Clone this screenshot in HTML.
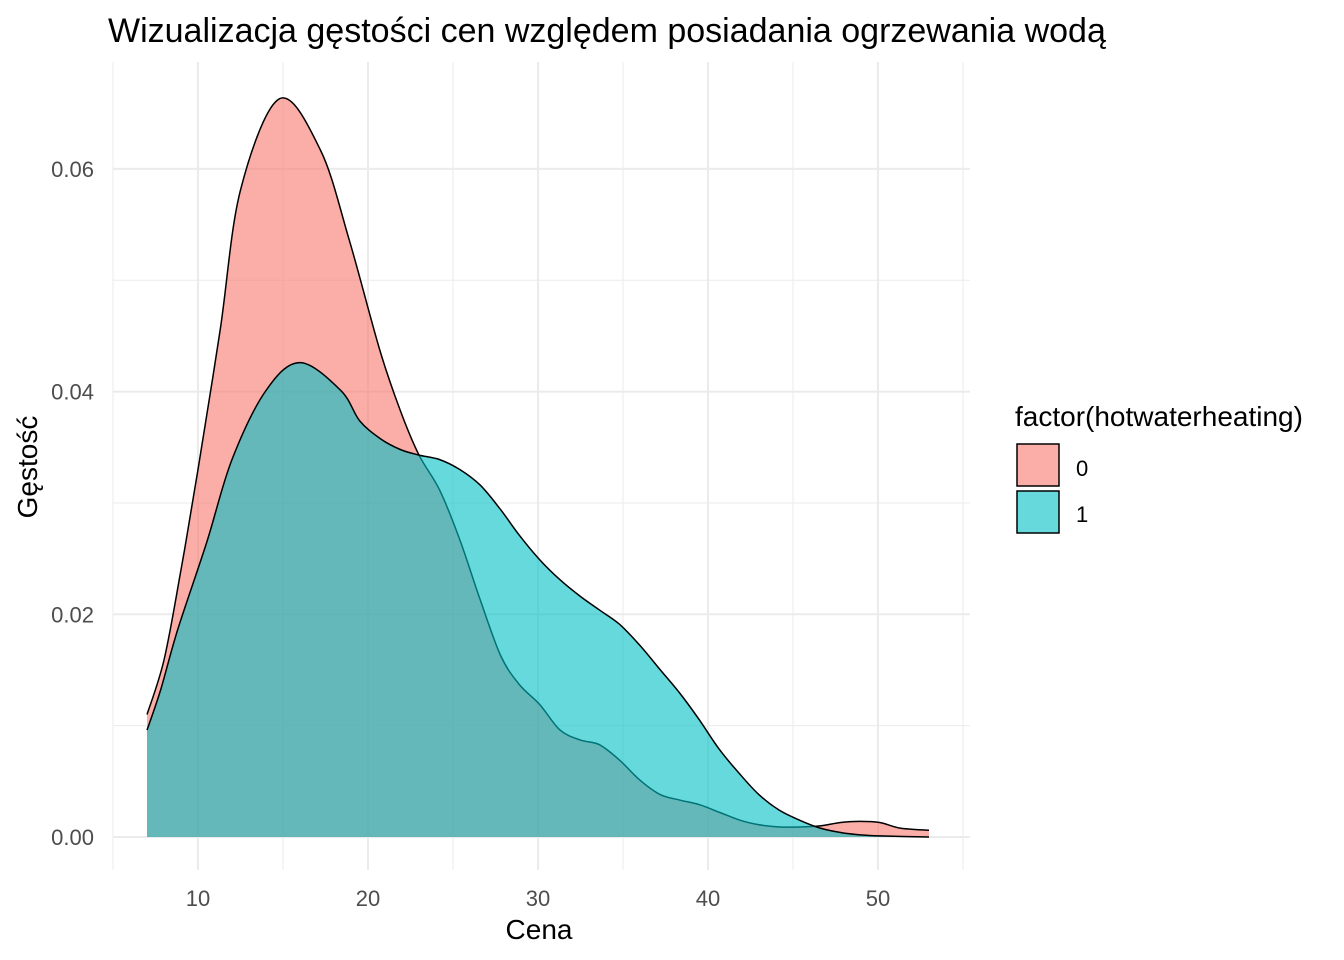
<!DOCTYPE html>
<html><head><meta charset="utf-8"><style>
body{margin:0;background:#fff;}
svg{display:block;font-family:"Liberation Sans",Arial,sans-serif;}
</style></head><body>
<svg id="chart" width="1344" height="960">
<text x="108" y="42" font-size="34" fill="#000">Wizualizacja gęstości cen względem posiadania ogrzewania wodą</text>
<g id="grid"></g>
<g id="areas"></g>
<g id="ticks"></g>
<text x="539" y="939" font-size="28" text-anchor="middle" fill="#000">Cena</text>
<text transform="translate(37,467) rotate(-90)" font-size="28" text-anchor="middle" fill="#000">Gęstość</text>
<g>
<text x="1015" y="426" font-size="28" fill="#000">factor(hotwaterheating)</text>
<rect x="1017" y="444" width="42" height="42" fill="#F8766D" fill-opacity="0.6" stroke="#000" stroke-width="1.5"/>
<text x="1076" y="476" font-size="22" fill="#000">0</text>
<rect x="1017" y="491" width="42" height="42" fill="#00BFC4" fill-opacity="0.6" stroke="#000" stroke-width="1.5"/>
<text x="1076" y="522" font-size="22" fill="#000">1</text>
</g>
</svg>
<script>
const xTicks=[10,20,30,40,50];
const xMinor=[5,15,25,35,45,55];
const yTicks=[0,0.02,0.04,0.06];
const yTickLabels=["0.00","0.02","0.04","0.06"];
const yMinor=[0.01,0.03,0.05];
const x0=[7,8,9,10,11.3,12.5,14.8,17.2,18.9,20.7,21.9,23,24.2,25.4,26.6,27.8,28.9,30.1,31.3,32.5,33.6,34.8,36,37.2,38.4,39.5,40.7,41.9,43,44.2,45.4,46.6,47.8,48.9,50.1,51.3,53];
const y0=[0.0110,0.0159,0.0240,0.0330,0.0455,0.0581,0.0663,0.0617,0.0536,0.0437,0.0383,0.0343,0.0312,0.0267,0.0213,0.0163,0.0137,0.0119,0.0096,0.0087,0.0083,0.0069,0.0051,0.0038,0.0033,0.0029,0.0022,0.0015,0.0011,0.0009,0.0009,0.0010,0.0013,0.0014,0.0013,0.0008,0.0006];
const x1=[7,7.8,8.8,10.5,12,14,16,18.4,19.5,20.7,21.9,23,24.2,25.4,26.6,27.8,28.9,30.1,31.3,32.5,33.6,34.8,36,37.2,38.4,39.5,40.7,41.9,43,44.2,45.4,46.6,47.8,48.9,50.1,53];
const y1=[0.0096,0.0132,0.0186,0.0264,0.0339,0.0401,0.0426,0.0401,0.0374,0.0358,0.0348,0.0343,0.0339,0.0330,0.0316,0.0294,0.0271,0.0249,0.0231,0.0216,0.0204,0.0191,0.0172,0.0150,0.0128,0.0105,0.0078,0.0056,0.0038,0.0024,0.0015,0.0008,0.0004,0.0002,0.0001,0];
const NS='http://www.w3.org/2000/svg';
const X=v=>28+v*17;
const Y=v=>837-v*11135;
const L=113,R=970,T=62,B=870;
function mk(tag,attrs,parent){const e=document.createElementNS(NS,tag);for(const k in attrs)e.setAttribute(k,attrs[k]);parent.appendChild(e);return e;}
const grid=document.getElementById('grid');
xMinor.forEach(v=>{const l=mk('line',{x1:X(v),x2:X(v),y1:T,y2:B,stroke:'#ebebeb','stroke-width':1},grid);

});
yMinor.forEach(v=>{const l=mk('line',{x1:L,x2:R,y1:Y(v),y2:Y(v),stroke:'#ebebeb','stroke-width':1},grid);

});
xTicks.forEach(v=>{const l=mk('line',{x1:X(v),x2:X(v),y1:T,y2:B,stroke:'#ebebeb','stroke-width':2},grid);

});
yTicks.forEach(v=>{const l=mk('line',{x1:L,x2:R,y1:Y(v),y2:Y(v),stroke:'#ebebeb','stroke-width':2},grid);

});
const areas=document.getElementById('areas');
function smooth(pts){
 let d='';
 for(let i=0;i<pts.length-1;i++){
  const p0=pts[Math.max(0,i-1)],p1=pts[i],p2=pts[i+1],p3=pts[Math.min(pts.length-1,i+2)];
  const c1x=p1[0]+(p2[0]-p0[0])/6,c1y=p1[1]+(p2[1]-p0[1])/6;
  const c2x=p2[0]-(p3[0]-p1[0])/6,c2y=p2[1]-(p3[1]-p1[1])/6;
  d+=' C'+c1x.toFixed(1)+','+c1y.toFixed(1)+' '+c2x.toFixed(1)+','+c2y.toFixed(1)+' '+p2[0].toFixed(1)+','+p2[1].toFixed(1);
 }
 return d;
}
function area(xs,ys,color,name){
 const pts=xs.map((x,i)=>[X(x),Y(ys[i])]);
 const curve=smooth(pts);
 const d='M'+pts[0][0]+','+Y(0)+' L'+pts[0][0]+','+pts[0][1]+curve+' L'+pts[pts.length-1][0]+','+Y(0)+' Z';
 const p=mk('path',{d:d,fill:color,'fill-opacity':0.6,stroke:'none'},areas);
 
 
 const o=mk('path',{d:'M'+pts[0][0]+','+pts[0][1]+curve,fill:'none',stroke:'#000','stroke-width':1.5,'stroke-linejoin':'round'},areas);
 
 
}
area(x0,y0,'#F8766D','density-0');
area(x1,y1,'#00BFC4','density-1');
const ticks=document.getElementById('ticks');
xTicks.forEach(v=>{const t=mk('text',{x:X(v),y:906,'font-size':22,fill:'#4d4d4d','text-anchor':'middle'},ticks);t.textContent=v;

});
yTicks.forEach((v,i)=>{const t=mk('text',{x:94,y:Y(v)+8,'font-size':22,fill:'#4d4d4d','text-anchor':'end'},ticks);t.textContent=yTickLabels[i];

});
</script>
</body></html>
